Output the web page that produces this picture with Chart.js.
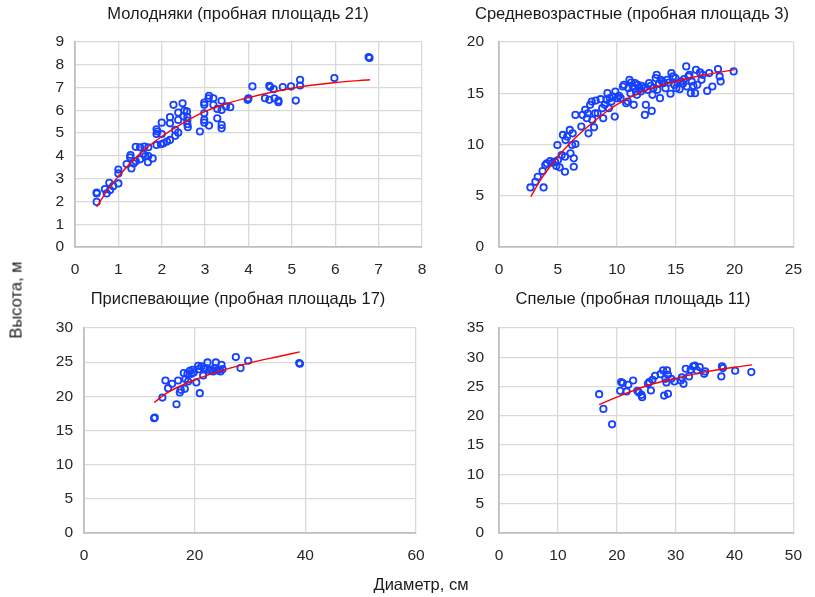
<!DOCTYPE html>
<html>
<head>
<meta charset="utf-8">
<script src="https://cdn.jsdelivr.net/npm/chart.js@4.4.1/dist/chart.umd.min.js"></script>
<style>
  body { margin: 0; background: #fff; }
  #wrap { position: relative; width: 815px; height: 597px; overflow: hidden; font-family: "Liberation Sans", Arial, sans-serif; color: #1a1a1a; }
  canvas { position: absolute; left: 0; top: 0; }
  .ttl { position: absolute; font-size: 16.5px; white-space: nowrap; transform: translate(-50%, -50%); }
</style>
</head>
<body>
<div id="wrap">
  <canvas id="c1" width="815" height="597"></canvas>
  <canvas id="c2" width="815" height="597"></canvas>
  <canvas id="c3" width="815" height="597"></canvas>
  <canvas id="c4" width="815" height="597"></canvas>
  <div class="ttl" style="left:238px;top:13px">Молодняки (пробная площадь 21)</div>
  <div class="ttl" style="left:632px;top:13px">Средневозрастные (пробная площадь 3)</div>
  <div class="ttl" style="left:238px;top:298px">Приспевающие (пробная площадь 17)</div>
  <div class="ttl" style="left:633px;top:298px">Спелые (пробная площадь 11)</div>
  <div class="ttl" style="left:16px;top:300px;transform:translate(-50%,-50%) rotate(-90deg)">Высота, м</div>
  <div class="ttl" style="left:421px;top:584px">Диаметр, см</div>
</div>
<script>
// Молодняки
const youngD = [0.5,0.5,0.5,0.69,0.73,0.79,0.81,0.88,1.0,1.0,1.0,1.19,1.28,1.27,1.3,1.35,1.4,1.4,1.5,1.5,1.6,1.58,1.62,1.69,1.68,1.69,1.79,
  1.88,1.88,1.88,1.9,1.98,2.0,2.0,2.04,2.12,2.19,2.19,2.19,2.27,2.31,2.31,2.38,2.38,2.38,2.48,2.5,2.52,2.58,2.59,2.59,2.6,2.59,
  2.88,2.98,2.98,2.98,2.98,2.98,3.08,3.09,3.09,3.19,3.19,3.28,3.28,3.38,3.38,3.38,3.38,3.48,3.58,
  3.98,4.0,4.09,4.38,4.48,4.48,4.5,4.58,4.6,4.69,4.69,4.79,4.98,5.09,5.19,5.19,5.98,6.79,6.77];
const youngH = [2.39,1.98,2.35,2.54,2.35,2.82,2.5,2.67,2.79,3.23,3.4,3.64,4.04,3.94,3.45,3.67,3.77,4.4,4.38,3.85,4.41,4.08,3.99,4.38,3.72,3.99,3.89,
  4.48,5.17,4.96,5.07,4.51,5.46,4.96,4.55,4.63,4.7,5.7,5.43,6.24,5.14,4.88,5.02,5.58,5.9,6.31,5.73,5.99,5.95,5.7,5.39,5.26,5.55,
  5.07,6.24,6.34,5.87,5.58,5.46,6.53,6.64,5.33,6.24,6.53,5.65,6.06,6.42,6.02,5.36,5.21,6.17,6.14,
  6.46,6.53,7.05,6.53,7.08,6.46,7.02,6.93,6.53,6.43,6.36,7.02,7.05,6.43,7.09,7.34,7.42,8.3,8.34];
const youngTrendD = [0.5,0.75,1,1.5,2,2.5,3,3.5,4,5,6,6.8];
const youngTrendH = [1.76,2.5,3.1,4.1,4.85,5.45,5.95,6.3,6.56,6.97,7.22,7.34];

// Средневозрастные
const middleD = [2.67,3.09,3.29,3.7,3.79,3.93,4.06,4.34,4.54,4.76,4.87,4.96,5.01,5.15,5.32,5.43,5.6,5.6,5.65,5.79,6.01,6.07,6.21,6.26,6.35,6.35,6.49,6.49,
  6.99,7.1,7.32,7.46,7.54,7.6,7.74,7.88,7.93,8.07,8.16,8.21,8.38,8.63,8.77,8.85,8.99,9.13,9.21,9.33,9.41,9.55,9.69,9.83,9.88,
  10.05,10.19,10.33,10.52,10.61,10.8,10.94,11.0,11.08,11.16,11.22,11.36,11.44,11.5,11.55,11.64,11.72,11.78,11.92,12.05,12.11,12.33,12.39,12.47,12.61,12.75,12.89,12.97,
  13.03,13.11,13.31,13.39,13.45,13.59,13.67,13.73,13.86,14.0,14.14,14.28,14.42,14.56,14.64,14.78,14.89,14.98,15.06,15.17,15.34,15.45,15.62,15.73,15.9,15.95,
  16.09,16.17,16.29,16.37,16.51,16.65,16.73,16.84,17.07,17.2,17.29,17.68,17.85,18.12,18.6,18.74,18.82,19.93];
const middleH = [5.81,6.36,6.85,7.41,5.81,7.99,8.16,8.39,8.22,8.32,7.9,9.95,8.48,7.77,8.97,10.93,7.34,8.81,10.44,10.77,11.42,9.14,9.95,11.09,8.65,7.83,10.05,12.89,
  11.75,12.89,13.38,12.56,13.05,11.09,13.87,14.19,12.4,11.68,13.05,14.29,13.05,14.42,13.54,12.56,13.87,14.36,15.01,13.54,14.52,14.19,14.68,12.72,15.17,
  14.52,14.75,14.52,15.66,15.82,14.03,14.19,15.5,16.31,15.01,16.05,15.66,13.87,15.5,15.99,15.17,14.85,15.82,15.5,15.17,15.72,15.5,12.89,13.87,15.33,15.99,15.72,13.28,
  14.85,15.5,16.48,16.8,15.33,15.92,14.52,16.31,16.15,15.99,15.5,16.31,16.05,14.95,16.97,16.64,15.82,16.48,15.5,15.99,15.4,16.15,15.92,16.38,17.62,15.66,
  16.64,16.8,15.01,16.15,15.72,15.01,17.29,15.82,17.03,16.31,16.8,15.23,16.97,15.66,17.36,16.64,16.15,17.13];
const middleTrendD = [2.7,3.5,5,6,7.5,9,10,12.5,15,17.5,20];
const middleTrendH = [4.9,6.5,8.8,10.1,11.7,13.1,13.9,15.3,16.15,16.8,17.3];

// Приспевающие
const premD = [12.67,12.79,14.17,14.72,15.2,15.92,16.71,17.01,17.31,17.49,18.03,18.21,18.33,18.69,18.81,19.12,19.42,19.6,19.84,20.3,20.63,20.81,20.93,
  21.23,21.53,21.71,21.95,22.32,22.62,23.04,23.34,23.64,23.82,24.06,24.43,24.67,24.85,25.03,27.44,28.29,29.67,38.9,39.02];
const premH = [16.79,16.89,19.82,22.32,21.19,21.83,18.84,22.32,20.56,20.95,23.4,21.1,22.52,23.25,22.17,23.74,23.3,23.89,23.5,22.03,24.47,23.98,20.46,
  24.37,23.05,23.98,24.13,24.96,23.79,23.89,23.64,24.13,24.96,23.79,23.89,23.64,24.62,23.98,25.75,24.13,25.21,24.87,24.77];
const premTrendD = [12.7,15,20,25,30,35,39];
const premTrendH = [19.1,20.5,22.4,23.8,24.9,25.8,26.5];

// Спелые
const matureD = [17.01,17.73,19.21,20.58,20.75,21.02,21.68,21.95,22.78,23.49,23.76,24.2,24.31,25.3,25.52,25.8,26.07,26.51,27.44,27.88,28.05,28.27,28.43,28.54,28.7,28.7,
  29.25,29.8,30.9,31.06,31.34,31.72,32.27,32.55,32.99,33.26,33.64,34.08,34.85,35.02,37.76,37.87,38.04,40.12,42.86];
const matureH = [23.7,21.19,18.56,24.27,25.76,25.59,24.16,25.3,26.04,24.27,23.99,23.59,23.19,25.47,25.76,24.33,26.16,26.84,27.13,27.76,23.47,26.33,25.7,27.76,23.76,27.01,
  26.33,25.87,26.04,26.56,25.47,28.04,26.73,27.87,28.44,28.56,27.76,28.33,27.18,27.58,26.73,28.44,28.16,27.7,27.47];
const matureTrendD = [17,20,25,30,35,40,43];
const matureTrendH = [21.9,23.2,25.1,26.4,27.5,28.3,28.7];

const pts = (xs, ys) => xs.map((x, i) => ({ x: x, y: ys[i] }));

const tickFont = { family: "'Liberation Sans', Arial, sans-serif", size: 15.5 };

const makeChart = (id, d, h, td, th, plot, xr, yr) => {
  const yW = plot.yW, xH = 40;
  new Chart(document.getElementById(id), {
    type: "scatter",
    data: {
      datasets: [
        {
          data: pts(td, th),
          showLine: true,
          borderColor: "#ff0000",
          borderWidth: 1.4,
          pointRadius: 0,
          cubicInterpolationMode: "monotone",
        },
        {
          data: pts(d, h),
          pointRadius: 3.2,
          pointBorderWidth: 1.8,
          borderColor: "#1541ff",
          backgroundColor: "rgba(255,255,255,0)",
        },
      ],
    },
    options: {
      responsive: false,
      animation: false,
      events: [],
      layout: {
        padding: { left: plot.L - yW, top: plot.T, right: 815 - plot.R, bottom: 597 - plot.B - xH },
      },
      plugins: { legend: { display: false }, tooltip: { enabled: false } },
      scales: {
        x: {
          type: "linear",
          min: xr[0], max: xr[1],
          ticks: { stepSize: xr[2], color: "#262626", font: tickFont, padding: 13, maxRotation: 0 },
          grid: { color: "#d9d9d9", lineWidth: 1.3, drawTicks: false },
          border: { color: "#bfbfbf", width: 1.8 },
          afterFit: (s) => { s.height = xH; },
        },
        y: {
          min: yr[0], max: yr[1],
          ticks: { stepSize: yr[2], color: "#262626", font: tickFont, padding: plot.pad },
          grid: { color: "#d9d9d9", lineWidth: 1.3, drawTicks: false },
          border: { color: "#bfbfbf", width: 1.8 },
          afterFit: (s) => { s.width = yW; },
        },
      },
    },
  });
};

makeChart("c1", youngD, youngH, youngTrendD, youngTrendH, { L: 75, T: 42, R: 422, B: 247, yW: 40, pad: 11 }, [0, 8, 1], [0, 9, 1]);
makeChart("c2", middleD, middleH, middleTrendD, middleTrendH, { L: 499, T: 42, R: 798, B: 247, yW: 45, pad: 15 }, [0, 25, 5], [0, 20, 5]);
makeChart("c3", premD, premH, premTrendD, premTrendH, { L: 84, T: 328, R: 416, B: 533, yW: 45, pad: 11 }, [0, 60, 20], [0, 30, 5]);
makeChart("c4", matureD, matureH, matureTrendD, matureTrendH, { L: 499, T: 328, R: 803, B: 533, yW: 45, pad: 15 }, [0, 50, 10], [0, 35, 5]);
</script>
</body>
</html>
